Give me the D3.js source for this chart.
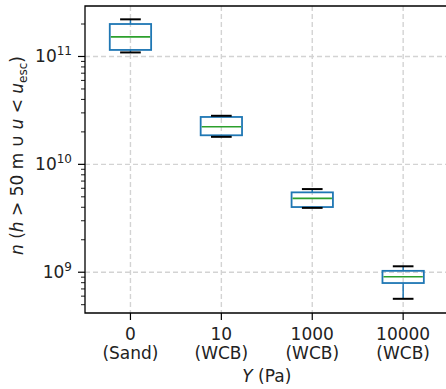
<!DOCTYPE html>
<html>
<head>
<meta charset="utf-8">
<script src="https://cdn.jsdelivr.net/npm/d3@7"></script>
<style>
  html, body { margin: 0; padding: 0; background: #fff; }
  svg { display: block; font-family: "DejaVu Sans", sans-serif; }
</style>
</head>
<body>
<svg id="chart" width="446" height="389"></svg>
<script>
// Yield strength categories and their material labels
const categories = ["0", "10", "1000", "10000"];
const categoryNotes = ["(Sand)", "(WCB)", "(WCB)", "(WCB)"];

// Box statistics per category
const whiskerLow  = [1.09e11, 1.80e10, 3.95e9, 5.67e8];
const quartile1   = [1.15e11, 1.86e10, 4.02e9, 7.94e8];
const medians     = [1.52e11, 2.23e10, 4.84e9, 9.08e8];
const quartile3   = [2.00e11, 2.75e10, 5.50e9, 1.03e9];
const whiskerHigh = [2.21e11, 2.82e10, 5.90e9, 1.135e9];

// Log-axis major ticks
const majorTicks = [1e9, 1e10, 1e11];
const majorExponents = ["9", "10", "11"];

const yMin = Math.pow(10, 8.622), yMax = Math.pow(10, 11.468);

const svg = d3.select("#chart");
const plotL = 85, plotT = 6, plotB = 313, plotR = 448.6;

const x = d3.scalePoint().domain(categories).range([plotL, plotR]).padding(0.5);
const y = d3.scaleLog().domain([yMin, yMax]).range([plotB, plotT]);

const step = x.step();
const boxW = step * 0.455;
const capW = boxW / 2;

// minor ticks on the log axis
const minorTicks = [];
for (let e = 8; e <= 11; e++) {
  for (let m = 2; m <= 9; m++) {
    const v = m * Math.pow(10, e);
    if (v >= yMin && v <= yMax) minorTicks.push(v);
  }
}

// grid
const grid = svg.append("g").attr("stroke", "#d3d3d3").attr("stroke-width", 1.4)
  .attr("stroke-dasharray", "5,3");
grid.selectAll("line.h").data(majorTicks).join("line")
  .attr("x1", plotL).attr("x2", plotR)
  .attr("y1", d => y(d)).attr("y2", d => y(d));
grid.selectAll("line.v").data(categories).join("line")
  .attr("x1", d => x(d)).attr("x2", d => x(d))
  .attr("y1", plotT).attr("y2", plotB);

// boxes
const boxes = svg.append("g").selectAll("g").data(categories).join("g");
const blue = "#1f77b4";
boxes.append("line") // upper whisker
  .attr("x1", d => x(d)).attr("x2", d => x(d))
  .attr("y1", (d, i) => y(quartile3[i])).attr("y2", (d, i) => y(whiskerHigh[i]))
  .attr("stroke", blue).attr("stroke-width", 1.5);
boxes.append("line") // lower whisker
  .attr("x1", d => x(d)).attr("x2", d => x(d))
  .attr("y1", (d, i) => y(quartile1[i])).attr("y2", (d, i) => y(whiskerLow[i]))
  .attr("stroke", blue).attr("stroke-width", 1.5);
boxes.append("rect")
  .attr("x", d => x(d) - boxW / 2).attr("width", boxW)
  .attr("y", (d, i) => y(quartile3[i]))
  .attr("height", (d, i) => y(quartile1[i]) - y(quartile3[i]))
  .attr("fill", "none").attr("stroke", blue).attr("stroke-width", 1.8);
boxes.append("line") // median
  .attr("x1", d => x(d) - boxW / 2 + 1).attr("x2", d => x(d) + boxW / 2 - 1)
  .attr("y1", (d, i) => y(medians[i])).attr("y2", (d, i) => y(medians[i]))
  .attr("stroke", "#2ca02c").attr("stroke-width", 1.6);
["high", "low"].forEach(k => {
  boxes.append("line")
    .attr("x1", d => x(d) - capW / 2).attr("x2", d => x(d) + capW / 2)
    .attr("y1", (d, i) => y(k === "high" ? whiskerHigh[i] : whiskerLow[i]))
    .attr("y2", (d, i) => y(k === "high" ? whiskerHigh[i] : whiskerLow[i]))
    .attr("stroke", "#000").attr("stroke-width", 2);
});

// spines
const spine = svg.append("g").attr("stroke", "#000").attr("stroke-width", 1.3).attr("fill", "none");
spine.append("path").attr("d", `M${plotR},${plotT}H${plotL}V${plotB}H${plotR}V${plotT}`);

// y ticks
const yAxisG = svg.append("g");
yAxisG.selectAll("line.maj").data(majorTicks).join("line")
  .attr("x1", plotL - 7).attr("x2", plotL).attr("y1", d => y(d)).attr("y2", d => y(d))
  .attr("stroke", "#000").attr("stroke-width", 1.2);
yAxisG.selectAll("line.min").data(minorTicks).join("line")
  .attr("x1", plotL - 4).attr("x2", plotL).attr("y1", d => y(d)).attr("y2", d => y(d))
  .attr("stroke", "#000").attr("stroke-width", 0.9);
const yLab = yAxisG.selectAll("text").data(majorTicks).join("text")
  .attr("x", plotL - 13).attr("y", d => y(d) + 6)
  .attr("text-anchor", "end").attr("font-size", 17).attr("fill", "#222");
yLab.append("tspan").text("10");
yLab.append("tspan").attr("font-size", 12).attr("dy", -7).text((d, i) => majorExponents[i]);

// x ticks
const xAxisG = svg.append("g");
xAxisG.selectAll("line").data(categories).join("line")
  .attr("x1", d => x(d)).attr("x2", d => x(d)).attr("y1", plotB).attr("y2", plotB + 7)
  .attr("stroke", "#000").attr("stroke-width", 1.2);
const xLab = xAxisG.selectAll("text").data(categories).join("text")
  .attr("text-anchor", "middle").attr("font-size", 17).attr("fill", "#222");
xLab.append("tspan").attr("x", d => x(d)).attr("y", plotB + 27).text(d => d);
xLab.append("tspan").attr("x", d => x(d)).attr("y", plotB + 46).text((d, i) => categoryNotes[i]);

// axis titles
const xt = svg.append("text").attr("x", (plotL + plotR) / 2).attr("y", 382)
  .attr("text-anchor", "middle").attr("font-size", 17).attr("fill", "#222");
xt.append("tspan").attr("font-style", "italic").text("Y");
xt.append("tspan").text(" (Pa)");

const yt = svg.append("text")
  .attr("transform", `translate(23,${(plotT + plotB) / 2 - 4}) rotate(-90)`)
  .attr("text-anchor", "middle").attr("font-size", 17).attr("fill", "#222");
yt.append("tspan").attr("font-style", "italic").text("n");
yt.append("tspan").text(" (");
yt.append("tspan").attr("font-style", "italic").text("h");
yt.append("tspan").text(" > 50 m ∪ ");
yt.append("tspan").attr("font-style", "italic").text("u");
yt.append("tspan").text(" < ");
yt.append("tspan").attr("font-style", "italic").text("u");
yt.append("tspan").attr("font-size", 12).attr("dy", 4).text("esc");
yt.append("tspan").attr("dy", -4).text(")");
</script>
</body>
</html>
